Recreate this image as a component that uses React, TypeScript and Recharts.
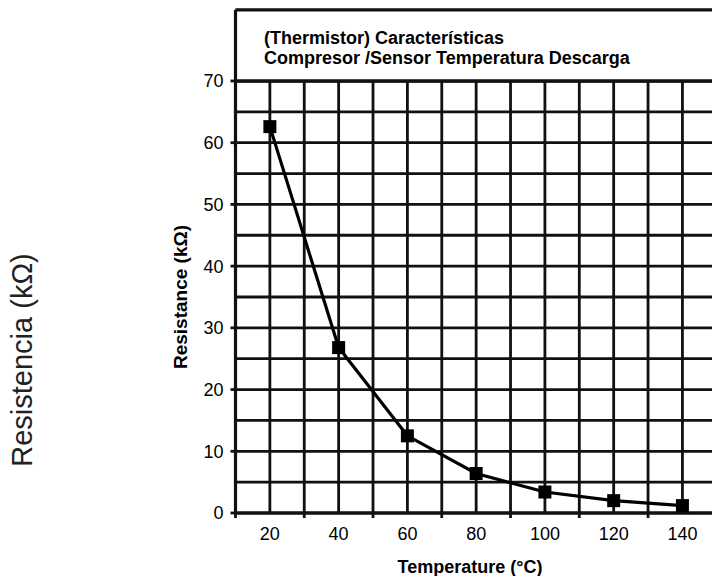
import React from "react";
import {
  LineChart,
  Line,
  XAxis,
  YAxis,
  CartesianGrid,
  ReferenceArea,
  ReferenceLine,
} from "recharts";

const temperatures = [20, 40, 60, 80, 100, 120, 140];
const resistance = [62.6, 26.8, 12.5, 6.4, 3.4, 2.0, 1.2];

const xTicks = [10, 20, 30, 40, 50, 60, 70, 80, 90, 100, 110, 120, 130, 140, 150];
const yTicks = [0, 5, 10, 15, 20, 25, 30, 35, 40, 45, 50, 55, 60, 65, 70];

const titleLines = ["(Thermistor) Características", "Compresor /Sensor Temperatura Descarga"];

const FONT = '"Liberation Sans", Arial, Helvetica, sans-serif';
const INK = "#111";

const data = temperatures.map((t, i) => ({ temp: t, r: resistance[i] }));

const XTick = (props: any) => {
  const { x, y, payload } = props;
  const v = payload.value;
  if (v % 20 === 0) {
    return (
      <text x={x} y={y} dy="0.71em" textAnchor="middle" fontSize={18} fontFamily={FONT} fill="#000">
        {v}
      </text>
    );
  }
  return <line x1={x} x2={x} y1={y - 14} y2={y - 9} stroke={INK} strokeWidth={2.8} />;
};

const YTick = (props: any) => {
  const { x, y, payload } = props;
  const v = payload.value;
  if (v % 10 !== 0) return <g />;
  return (
    <g>
      <line x1={x + 7} x2={x + 12} y1={y} y2={y} stroke={INK} strokeWidth={2.8} />
      <text x={x} y={y} dy="0.355em" textAnchor="end" fontSize={18} fontFamily={FONT} fill="#000">
        {v}
      </text>
    </g>
  );
};

const SquareDot = (props: any) => {
  const { cx, cy, index } = props;
  if (cx == null || cy == null) return <g key={index} />;
  return <rect key={index} x={cx - 6.5} y={cy - 6.5} width={13} height={13} fill="#000" />;
};

export default function App() {
  return (
    <div
      style={{
        position: "absolute",
        left: 0,
        top: 0,
        width: 712,
        height: 576,
        overflow: "hidden",
        background: "#fff",
      }}
    >
      <LineChart width={734} height={576} data={data} margin={{ top: 10, right: 0, bottom: 0, left: 0 }}>
        <CartesianGrid stroke={INK} strokeWidth={2.8} />
        <XAxis
          dataKey="temp"
          type="number"
          domain={[10, 155]}
          ticks={xTicks}
          interval={0}
          height={63}
          tickSize={5}
          tickMargin={9}
          tickLine={false}
          tick={XTick}
          axisLine={{ stroke: INK, strokeWidth: 3.2 }}
        />
        <YAxis
          type="number"
          domain={[0, 81.5]}
          ticks={yTicks}
          interval={0}
          width={235.5}
          tickSize={5}
          tickMargin={7}
          tickLine={false}
          tick={YTick}
          axisLine={{ stroke: INK, strokeWidth: 3.2 }}
        />
        <ReferenceArea x1={10} x2={155} y1={70} y2={81.5} fill="#fff" fillOpacity={1} stroke="none" />
        <ReferenceLine y={70} stroke={INK} strokeWidth={3.6} />
        <ReferenceLine y={81.5} stroke={INK} strokeWidth={2.8} />
        <Line
          type="linear"
          dataKey="r"
          stroke="#000"
          strokeWidth={3.2}
          dot={SquareDot}
          activeDot={false}
          isAnimationActive={false}
        />
      </LineChart>
      <svg
        width={712}
        height={576}
        style={{ position: "absolute", left: 0, top: 0, pointerEvents: "none" }}
      >
        <text fontFamily={FONT} fontSize={18} fontWeight="bold" fill="#000">
          <tspan x={264} y={44}>{titleLines[0]}</tspan>
          <tspan x={264} y={63.5}>{titleLines[1]}</tspan>
        </text>
        <text
          x={187}
          y={297}
          transform="rotate(-90, 187, 297)"
          textAnchor="middle"
          fontFamily={FONT}
          fontSize={19}
          fontWeight="bold"
          fill="#000"
        >
          Resistance (kΩ)
        </text>
        <text
          x={470}
          y={573}
          textAnchor="middle"
          fontFamily={FONT}
          fontSize={18}
          fontWeight="bold"
          fill="#000"
        >
          Temperature (°C)
        </text>
        <text
          x={32}
          y={360}
          transform="rotate(-90, 32, 360)"
          textAnchor="middle"
          fontFamily={FONT}
          fontSize={29}
          fill="#222"
        >
          Resistencia (kΩ)
        </text>
      </svg>
    </div>
  );
}
